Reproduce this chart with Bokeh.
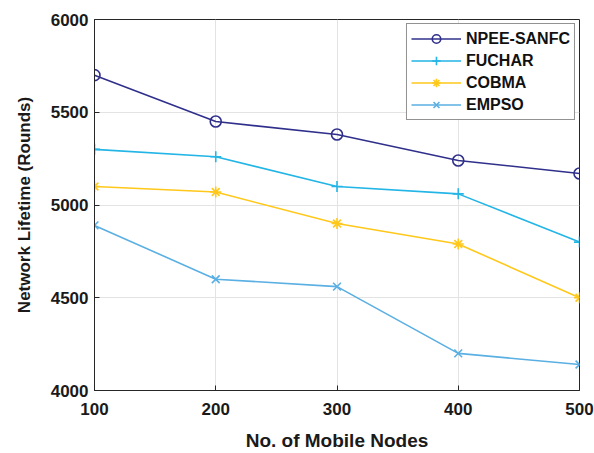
from bokeh.plotting import figure
from bokeh.models import Legend, LegendItem, FixedTicker, Range1d
from bokeh.embed import file_html
from bokeh.resources import INLINE

nodes = [100, 200, 300, 400, 500]
npee_sanfc = [5700, 5450, 5380, 5240, 5170]
fuchar = [5300, 5260, 5100, 5060, 4800]
cobma = [5100, 5070, 4900, 4790, 4500]
empso = [4890, 4600, 4560, 4200, 4140]

x_ticks = [100, 200, 300, 400, 500]
y_ticks = [4000, 4500, 5000, 5500, 6000]

FONT = "Liberation Sans"

p = figure(width=594, height=453, output_backend="svg", toolbar_location=None,
           x_range=Range1d(100, 500), y_range=Range1d(4000, 6000),
           min_border_left=94, min_border_right=15, min_border_top=19, min_border_bottom=63)

p.outline_line_color = "#262626"
p.outline_line_width = 1
p.background_fill_color = "white"
p.border_fill_color = "white"

for ax in (p.xaxis[0], p.yaxis[0]):
    ax.major_tick_in = 5
    ax.major_tick_out = 0
    ax.minor_tick_line_color = None
    ax.axis_line_color = "#262626"
    ax.major_tick_line_color = "#262626"
    ax.major_label_text_font = FONT
    ax.major_label_text_font_style = "bold"
    ax.major_label_text_font_size = "17px"
    ax.major_label_text_color = "#1a1a1a"
    ax.axis_label_text_font = FONT
    ax.axis_label_text_font_style = "bold"
    ax.axis_label_text_color = "#1a1a1a"

p.xaxis.ticker = FixedTicker(ticks=x_ticks)
p.yaxis.ticker = FixedTicker(ticks=y_ticks)
p.xaxis.axis_label = "No. of Mobile Nodes"
p.yaxis.axis_label = "Network Lifetime (Rounds)"
p.xaxis.axis_label_text_font_size = "19px"
p.yaxis.axis_label_text_font_size = "17px"
p.xaxis.major_label_standoff = 12
p.yaxis.major_label_standoff = 6
p.xaxis.axis_label_standoff = 12
p.yaxis.axis_label_standoff = 14

p.grid.grid_line_color = "#e3e3e3"
p.grid.grid_line_width = 1

series = [
    ("NPEE-SANFC", npee_sanfc, "#30308c", "circle"),
    ("FUCHAR", fuchar, "#22b5e6", "cross"),
    ("COBMA", cobma, "#ffc81a", "asterisk"),
    ("EMPSO", empso, "#5aafe3", "x"),
]

items = []
for name, ys, color, marker in series:
    ln = p.line(nodes, ys, line_color=color, line_width=1.6)
    kw = dict(size=11, line_color=color, line_width=1.6)
    if marker == "circle":
        kw["fill_color"] = None
    mk = p.scatter(nodes, ys, marker=marker, **kw)
    items.append(LegendItem(label=name, renderers=[ln, mk]))

legend = Legend(items=items, location="top_right")
legend.label_text_font = FONT
legend.label_text_font_style = "bold"
legend.label_text_font_size = "16px"
legend.label_text_color = "#111111"
legend.border_line_color = "#262626"
legend.border_line_width = 1
legend.glyph_width = 50
legend.glyph_height = 21
legend.label_height = 21
legend.label_standoff = 5
legend.spacing = 1
legend.padding = 4
legend.margin = 4
p.add_layout(legend)

open("out.html", "w").write(file_html(p, INLINE))
